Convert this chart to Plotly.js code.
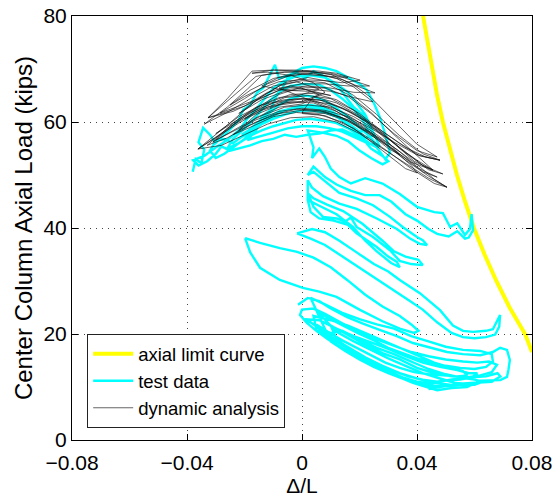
<!DOCTYPE html>
<html>
<head>
<meta charset="utf-8">
<script src="https://cdn.plot.ly/plotly-3.0.1.min.js"></script>
<style>html,body{margin:0;padding:0;background:#fff;}#chart{width:560px;height:497px;}</style>
</head>
<body>
<div id="chart"></div>
<script>
// ---- Data ----
const xTickVals = [-0.08, -0.04, 0, 0.04, 0.08];
const xTickText = ["\u22120.08", "\u22120.04", "0", "0.04", "0.08"];
const yTickVals = [0, 20, 40, 60, 80];

// axial limit curve
const limitX = [0.0421, 0.0437, 0.0452, 0.0470, 0.0490, 0.0513, 0.0539, 0.0567, 0.0598, 0.0635, 0.0676, 0.0722, 0.0776, 0.0800];
const limitY = [80.0, 75.0, 70.0, 65.0, 60.0, 55.0, 50.0, 45.0, 40.0, 35.0, 30.0, 25.0, 20.0, 16.6];

// test data: upper cluster
const testUpper = [
 [-0.038,50.6],[-0.037,53.0],[-0.035,52.2],[-0.034,54.8],[-0.036,56.2],[-0.0344,58.9],[-0.032,57.6],[-0.030,56.0],[-0.0275,57.4],[-0.025,58.6],[-0.022,60.4],[-0.0205,62.3],[-0.018,63.2],[-0.0157,65.5],[-0.0135,66.4],[-0.0122,67.9],[-0.0094,70.8],[-0.008,68.2],[-0.004,69.0],[0.0,70.2],[0.004,70.5],[0.008,70.2],[0.012,69.6],[0.016,68.4],[0.020,67.2],[0.0226,66.0],[0.025,63.6],[0.027,61.0],[0.029,57.6],[0.0306,54.2],[0.029,53.0],[0.026,55.2],[0.022,56.4],[0.018,57.6],[0.014,58.6],[0.010,58.4],[0.006,57.8],[0.002,57.6],[-0.002,57.2],[-0.006,57.6],[-0.010,56.8],[-0.014,56.4],[-0.018,55.6],[-0.022,55.0],[-0.025,54.6],[-0.028,55.4],[-0.030,54.0],[-0.033,52.6],[-0.036,51.8],[-0.0379,52.8],
 [-0.034,53.6],[-0.030,55.2],[-0.026,56.6],[-0.022,58.4],[-0.019,60.6],[-0.016,62.4],[-0.013,64.4],[-0.010,66.4],[-0.006,67.8],[-0.002,68.6],[0.003,68.8],[0.008,68.4],[0.012,67.2],[0.016,65.6],[0.019,63.6],[0.022,61.4],[0.024,59.0],[0.026,56.8],[0.027,55.4],[0.024,55.8],[0.020,57.4],[0.016,58.8],[0.012,59.8],[0.008,60.2],[0.003,60.6],[-0.002,60.4],[-0.006,59.8],[-0.010,59.2],[-0.014,58.4],[-0.018,57.4],[-0.022,56.0],[-0.026,55.0],
 [-0.024,56.8],[-0.020,58.8],[-0.016,61.0],[-0.012,63.6],[-0.008,65.6],[-0.004,66.8],[0.001,67.2],[0.006,67.0],[0.010,66.0],[0.014,64.4],[0.018,62.4],[0.021,60.4],[0.023,58.4],[0.020,58.2],[0.016,59.6],[0.012,61.0],[0.008,61.8],[0.003,62.2],[-0.002,62.0],[-0.006,61.4],[-0.010,60.6],[-0.014,59.6],[-0.018,58.6],[-0.021,57.6],
 [-0.020,57.8],[-0.016,59.6],[-0.012,61.4],[-0.008,63.2],[-0.004,64.4],[0.000,65.0],[0.004,64.8],[0.008,64.0],[0.012,62.6],[0.016,61.0],[0.020,59.0],[0.024,57.0],[0.026,55.6],[0.022,56.2],[0.018,57.2],[0.014,58.2],[0.010,58.8],[0.005,59.2],[0.000,59.2],[-0.005,58.8],[-0.010,58.0],[-0.015,57.2],[-0.019,56.6],
 [-0.016,58.4],[-0.014,61.0],[-0.011,62.2],[-0.009,64.8],[-0.007,66.2],[-0.005,68.4],[-0.002,69.4],[0.001,68.2],[0.004,69.6],[0.007,68.8],[0.010,67.6],[0.013,66.4],[0.016,64.2],[0.018,62.8],[0.021,61.4],[0.023,59.6],[0.025,57.4],[0.022,57.0],[0.019,58.6],[0.015,60.2],[0.011,61.8],[0.007,62.8],[0.003,63.2],[-0.001,63.0],[-0.005,62.4],[-0.009,61.4],[-0.013,60.0],[-0.017,58.4],[-0.021,57.2],[-0.024,56.0],[-0.027,56.8],
 [-0.030,56.4],[-0.032,54.6],[-0.030,53.2],[-0.027,54.0],[-0.024,55.2],[-0.020,56.8],[-0.016,59.0],[-0.012,60.8],[-0.008,62.0],[-0.003,62.6],[0.002,62.8],[0.007,62.4],[0.011,61.4],[0.015,60.0],[0.019,58.2],[0.022,56.4],[0.024,55.0],[0.028,53.6],[0.030,52.6],[0.028,52.0],[0.024,53.2],[0.020,54.6],[0.016,56.4],[0.012,57.4],[0.007,58.0],[0.002,58.4],[0.004,55.2]
];

// test data: middle loops
const testMiddle = [
 [0.0035,53.2],[0.006,55.0],[0.008,53.4],[0.010,51.2],[0.013,49.6],[0.017,48.4],[0.022,49.4],[0.028,48.4],[0.034,46.4],[0.040,44.0],[0.046,43.0],[0.049,42.8],[0.0515,40.2],[0.054,40.9],[0.0567,38.7],[0.0584,39.8],[0.059,42.6],[0.0595,39.6],[0.058,38.2],[0.0567,38.0],[0.054,39.4],[0.051,38.4],[0.047,38.9],[0.044,39.8],[0.040,41.4],[0.036,42.6],[0.031,45.0],[0.027,46.2],[0.022,46.2],[0.017,47.0],[0.012,48.2],[0.008,49.6],[0.004,51.6],
 [0.002,50.0],[0.004,50.6],[0.0087,48.5],[0.013,46.6],[0.019,45.6],[0.0247,44.3],[0.0306,42.1],[0.035,40.2],[0.040,38.3],[0.042,37.7],[0.0435,36.8],[0.041,37.0],[0.0376,38.0],[0.033,39.8],[0.026,41.8],[0.019,43.6],[0.013,44.6],[0.0073,46.0],[0.0035,47.6],[0.002,49.0],
 [0.002,46.6],[0.004,44.0],[0.0073,42.1],[0.012,41.8],[0.015,41.2],[0.017,42.0],[0.019,40.2],[0.0247,38.3],[0.0306,35.8],[0.034,33.8],[0.038,33.2],[0.042,33.0],[0.0405,34.0],[0.036,34.6],[0.032,35.6],[0.028,37.6],[0.021,40.8],[0.0143,43.2],[0.0087,44.4],[0.004,45.6],[0.002,46.6],
 [0.002,45.3],[0.003,43.0],[0.006,41.8],[0.011,41.4],[0.016,40.6],[0.019,39.0],[0.026,36.4],[0.030,34.6],[0.033,33.6],[0.034,32.6],[0.031,33.4],[0.026,35.6],[0.022,37.6],[0.0177,40.2],[0.012,42.6],[0.006,44.2],[0.002,45.3]
];

// test data: long lower-left loop
const testLongA = [
 [-0.0198,38.1],[-0.0146,37.2],[-0.0077,36.2],[-0.0017,35.5],[0.004,34.4],[0.010,32.6],[0.0157,30.2],[0.022,27.4],[0.028,25.2],[0.034,23.4],[0.038,21.8],[0.0405,20.6],[0.039,20.2],[0.034,21.0],[0.028,22.4],[0.020,24.6],[0.012,27.0],[0.006,28.0],[0.0003,28.7],[-0.0077,30.2],[-0.0146,32.5],[-0.018,35.4],[-0.0198,38.1]
];
// test data: loop from x=0 to the tip near 0.069
const testLongB = [
 [-0.0017,39.0],[0.0035,39.8],[0.008,39.2],[0.013,37.6],[0.019,35.4],[0.025,33.2],[0.030,31.8],[0.034,30.2],[0.041,27.7],[0.048,24.5],[0.0525,21.6],[0.0560,20.6],[0.0595,20.4],[0.0640,20.6],[0.0664,20.9],[0.0689,23.6],[0.0686,21.4],[0.0672,19.9],[0.0640,19.4],[0.0600,19.2],[0.0560,19.4],[0.0520,20.2],[0.0470,22.2],[0.0420,24.6],[0.0370,26.4],[0.0320,28.2],[0.0260,30.4],[0.0200,32.6],[0.0140,34.8],[0.0080,36.8],[0.0030,38.0],[-0.0017,39.0]
];

// test data: lower dense cluster
const testLower = [
 [-0.0014,25.5],[0.002,26.8],[0.006,26.2],[0.010,24.8],[0.0157,23.2],[0.021,22.0],[0.027,20.8],[0.033,19.6],[0.0386,18.3],[0.0445,17.4],[0.0504,16.6],[0.056,16.2],[0.062,16.0],[0.0664,16.6],[0.0689,17.4],[0.0713,17.0],[0.0723,15.1],[0.0718,13.2],[0.0713,11.9],[0.0690,11.3],[0.0664,11.3],[0.0620,11.2],[0.0574,10.0],[0.0520,9.8],[0.0470,9.4],[0.0430,10.0],[0.0386,10.8],[0.0340,11.8],[0.0306,12.6],[0.0260,13.8],[0.0210,15.1],[0.0170,16.4],[0.0132,17.5],[0.0090,19.0],[0.0050,20.6],[0.0017,22.1],[-0.0007,23.6],
 [0.000,24.6],[0.004,24.8],[0.008,23.8],[0.014,22.0],[0.020,20.4],[0.026,19.0],[0.032,17.8],[0.038,16.6],[0.044,15.8],[0.050,15.2],[0.056,14.8],[0.061,14.6],[0.065,14.8],[0.0678,14.2],[0.066,12.8],[0.062,12.2],[0.057,11.8],[0.052,11.4],[0.047,11.0],[0.042,11.4],[0.037,12.0],[0.032,13.0],[0.027,14.2],[0.022,15.6],[0.017,17.2],[0.012,18.8],[0.007,20.6],[0.003,22.2],
 [0.001,22.8],[0.006,22.6],[0.012,21.0],[0.018,19.6],[0.024,18.4],[0.030,17.2],[0.036,15.8],[0.042,14.6],[0.048,13.8],[0.054,13.2],[0.058,12.6],[0.061,12.6],[0.059,11.8],[0.055,11.4],[0.050,11.2],[0.045,10.6],[0.040,11.0],[0.035,11.8],[0.030,13.0],[0.025,14.4],[0.020,15.8],[0.015,17.6],[0.010,19.2],[0.005,20.8],
 [0.004,23.4],[0.010,22.6],[0.016,21.6],[0.022,20.2],[0.028,18.8],[0.034,17.4],[0.040,16.0],[0.046,14.6],[0.052,13.6],[0.056,13.0],[0.0575,12.2],[0.054,12.0],[0.049,12.2],[0.044,12.4],[0.039,12.8],[0.034,13.6],[0.029,14.6],[0.024,16.0],[0.019,17.4],[0.014,18.8],[0.009,20.4],[0.005,21.8],
 [0.008,20.0],[0.014,20.6],[0.020,19.0],[0.026,17.4],[0.032,16.2],[0.038,14.8],[0.044,13.4],[0.050,12.4],[0.055,11.8],[0.060,11.4],[0.063,11.0],[0.060,10.4],[0.055,10.4],[0.050,10.2],[0.045,10.2],[0.040,10.8],[0.035,11.6],[0.030,12.6],[0.025,13.8],[0.020,15.2],[0.015,16.8],[0.010,18.6],
 [0.003,26.8],[0.008,25.6],[0.014,24.0],[0.020,22.8],[0.026,21.8],[0.032,21.0],[0.038,19.6],[0.044,18.6],[0.050,17.6],[0.056,17.0],[0.062,16.8],[0.066,16.2],[0.0664,14.8],[0.064,13.8],[0.060,13.4],[0.055,13.6],[0.050,14.0],[0.045,14.6],[0.040,15.4],[0.035,16.4],[0.030,17.4],[0.025,18.8],[0.020,20.0],[0.015,21.4],[0.010,22.8],[0.005,24.4],
 [0.012,20.4],[0.018,18.6],[0.024,17.0],[0.030,15.4],[0.036,14.0],[0.042,12.6],[0.048,11.6],[0.053,10.8],[0.056,10.6],[0.052,10.4],[0.046,10.8],[0.040,11.6],[0.034,12.6],[0.028,14.0],[0.022,15.6],[0.016,17.4],[0.012,19.0],
 [0.010,21.6],[0.016,19.8],[0.022,18.0],[0.028,16.4],[0.034,15.2],[0.040,13.6],[0.046,12.6],[0.052,12.0],[0.058,11.8],[0.064,12.0],[0.068,12.6],[0.069,12.0],[0.066,11.0],[0.060,10.8],[0.054,10.6],[0.048,10.0],[0.044,9.6]
];

// dynamic analysis path
const dynPath = [
 [0.000,62.4],[0.008,62.0],[0.016,60.4],[0.024,58.0],[0.032,55.2],[0.040,52.0],[0.046,49.2],[0.0504,47.7],[0.044,49.4],[0.036,52.2],[0.028,55.0],[0.020,57.8],[0.012,60.0],[0.004,61.0],[-0.004,60.8],[-0.012,59.6],[-0.020,57.6],[-0.028,55.6],[-0.0362,54.9],[-0.030,57.0],[-0.022,59.8],[-0.014,62.2],[-0.006,63.6],[0.002,64.0],
 [0.010,63.4],[0.018,61.6],[0.026,59.0],[0.034,56.0],[0.041,53.6],[0.048,52.8],[0.040,53.8],[0.032,56.2],[0.024,58.8],[0.016,61.0],[0.008,62.2],[0.000,62.6],[-0.008,62.0],[-0.016,60.4],[-0.024,58.2],[-0.030,56.6],[-0.024,59.4],[-0.016,62.0],[-0.008,63.6],[0.000,64.4],
 [0.008,64.0],[0.016,62.2],[0.024,59.4],[0.032,56.0],[0.039,52.6],[0.0456,50.9],[0.038,52.4],[0.030,55.4],[0.022,58.2],[0.014,60.8],[0.006,62.2],[-0.002,62.4],[-0.010,61.4],[-0.018,59.4],[-0.026,57.0],[-0.033,55.6],[-0.026,58.8],[-0.018,61.8],[-0.010,63.6],[-0.002,64.4],
 [0.006,64.2],[0.014,62.6],[0.022,60.2],[0.028,57.4],[0.034,53.8],[0.030,55.0],[0.024,57.6],[0.016,60.4],[0.008,61.8],[0.000,62.2],[-0.008,61.6],[-0.016,60.0],[-0.022,58.4],[-0.016,61.4],[-0.008,63.2],[0.000,63.8],
 [0.006,65.2],[0.000,66.4],[-0.008,66.0],[-0.016,64.0],[-0.024,62.0],[-0.0327,60.8],[-0.026,64.4],[-0.0174,69.6],[-0.010,69.8],[-0.002,69.8],[0.006,69.6],[0.012,69.2],[0.016,68.6],[0.0202,67.9],[0.014,67.4],[0.008,67.8],[0.000,68.0],[-0.008,67.6],[-0.014,66.4],[-0.020,64.8],[-0.025,63.2],[-0.018,66.0],[-0.010,68.2],[-0.002,69.2],[0.006,69.0],[0.014,68.0],[0.020,66.6],[0.0254,65.5],[0.018,65.6],[0.010,66.4],[0.002,66.8],[-0.006,66.4],[-0.014,64.6],[-0.0285,61.7],[-0.020,64.4],[-0.012,67.2],[-0.004,68.8],[0.004,69.2],[0.012,68.2],[0.018,66.6],[0.0247,63.8],[0.018,64.6],[0.010,65.8],[0.002,66.2],[-0.006,65.8],
 [-0.014,64.2],[-0.022,61.6],[-0.014,64.8],[-0.006,67.4],[0.002,68.4],[0.010,67.6],[0.018,65.0],[0.026,61.4],[0.034,57.4],[0.042,54.0],[0.048,52.8],[0.043,53.4],[0.036,55.2],[0.028,58.2],[0.020,61.6],[0.012,64.2],[0.004,65.4],[-0.004,65.2],[-0.012,63.6],[-0.020,61.0],[-0.026,58.6],[-0.0362,54.9],[-0.026,59.4],[-0.0157,64.2],[-0.008,66.8],[0.000,67.8],[0.008,67.4],[0.016,65.2],[0.024,61.8],[0.032,57.6],[0.038,54.6],[0.0456,50.9],[0.040,52.8],[0.034,55.0],[0.026,58.8],[0.018,62.2],[0.010,64.4],[0.002,65.0],[-0.006,64.6],[-0.014,62.6],[-0.020,60.6],
 [-0.012,62.8],[-0.004,63.8],[0.004,63.6],[0.012,62.0],[0.020,59.4],[0.028,56.2],[0.036,52.8],[0.044,49.8],[0.0504,47.7],[0.046,48.4],[0.038,51.2],[0.030,54.4],[0.022,57.4],[0.014,60.0],[0.006,61.4],[-0.002,61.8],[-0.010,61.0],[-0.018,59.0],[-0.024,57.6],[-0.016,60.8],[-0.008,62.8],[0.000,63.4],
 [0.008,65.6],[0.004,67.4],[-0.004,68.8],[-0.012,69.4],[-0.0174,69.2],[-0.010,69.8],[0.000,69.6],[0.010,69.2],[0.016,68.4],[0.010,68.6],[0.000,69.0],[-0.008,68.4],[-0.014,66.8],[-0.006,66.0],[0.002,65.8],[0.010,65.0],
 [-0.004,66.8],[-0.012,65.6],[-0.020,63.0],[-0.0327,60.8],[-0.024,64.8],[-0.016,68.6],[-0.008,69.4],[0.002,69.6],[0.010,69.0],[0.018,67.0],[0.024,64.6],[0.032,60.2],[0.040,55.8],[0.047,53.4],[0.040,54.6],[0.032,57.8],[0.024,61.6],[0.016,64.8],[0.008,66.4],[0.000,66.6],
 [-0.008,65.2],[-0.016,62.6],[-0.024,59.8],[-0.030,57.8],[-0.022,61.0],[-0.014,63.2],[-0.006,64.2],[0.002,64.4],[0.010,63.0],[0.018,60.6],[0.026,57.6],[0.034,54.4],[0.042,50.6],[0.047,49.6],[0.040,51.4],[0.032,54.8],[0.024,57.8],[0.016,60.2],[0.008,61.6],[0.000,61.8],
 [0.004,64.8],[0.012,63.6],[0.020,61.2],[0.028,58.0],[0.036,54.2],[0.044,51.0],[0.049,50.2],[0.042,51.8],[0.034,55.2],[0.026,58.4],[0.018,61.0],[0.010,62.8],[0.002,63.2],[-0.006,62.8],[-0.014,61.2],[-0.022,59.0],[-0.031,56.2],[-0.024,59.8],[-0.016,62.8],[-0.008,64.6],[0.000,65.2],
 [0.006,66.2],[-0.002,67.6],[-0.010,66.8],[-0.018,64.4],[-0.026,61.8],[-0.034,59.6],[-0.026,62.8],[-0.019,66.2],[-0.014,68.8],[-0.006,69.4],[0.004,69.4],[0.012,68.8],[0.019,67.6],[0.0235,66.8],[0.016,66.8],[0.008,67.2],[0.000,67.2],[-0.008,66.4],
 [0.010,62.6],[0.020,59.6],[0.030,55.6],[0.038,51.8],[0.040,50.4],[0.036,51.2],[0.028,54.6],[0.018,58.8],[0.008,61.2],[0.000,61.6]
];

// ---- Build traces (null breaks between separate loop groups) ----
const testGroups = [testUpper.concat(testMiddle), testLongA, testLongB, testLower];
const testX = [], testY = [];
testGroups.forEach((g, i) => {
  if (i > 0) { testX.push(null); testY.push(null); }
  g.forEach(p => { testX.push(p[0]); testY.push(p[1]); });
});
const dynX = dynPath.map(p => p[0]);
const dynY = dynPath.map(p => p[1]);

const FONT = "Liberation Sans, Arial, Helvetica, sans-serif";

const traces = [
  {x: limitX, y: limitY, type: "scatter", mode: "lines", name: "axial limit curve",
   line: {color: "#ffff00", width: 4}},
  {x: testX, y: testY, type: "scatter", mode: "lines", name: "test data", connectgaps: false,
   line: {color: "#00ffff", width: 2.4}},
  {x: dynX, y: dynY, type: "scatter", mode: "lines", name: "dynamic analysis",
   line: {color: "#111111", width: 0.65}}
];

const layout = {
  width: 560, height: 497,
  margin: {l: 72, r: 28, t: 16, b: 57, pad: 0},
  paper_bgcolor: "#ffffff", plot_bgcolor: "#ffffff",
  font: {family: FONT, size: 21, color: "#000"},
  showlegend: true,
  legend: {x: 0.033, y: 0.028, xanchor: "left", yanchor: "bottom",
    bgcolor: "#ffffff", bordercolor: "#222", borderwidth: 1, itemwidth: 40,
    font: {family: FONT, size: 18.5, color: "#000"}, tracegroupgap: 0},
  xaxis: {range: [-0.08, 0.08], tickvals: xTickVals, ticktext: xTickText,
    ticks: "inside", ticklen: 6, tickcolor: "#000", showline: true, mirror: "ticks",
    linecolor: "#000", linewidth: 1, zeroline: false, ticklabelstandoff: 4,
    showgrid: true, gridcolor: "#444", gridwidth: 1, griddash: "1px,5px",
    tickfont: {family: FONT, size: 21},
    title: {text: "\u0394/L", font: {family: FONT, size: 21}, standoff: 7}},
  yaxis: {range: [0, 80], tickvals: yTickVals,
    ticks: "inside", ticklen: 6, tickcolor: "#000", showline: true, mirror: "ticks",
    linecolor: "#000", linewidth: 1, zeroline: false,
    showgrid: true, gridcolor: "#444", gridwidth: 1, griddash: "1px,5px",
    tickfont: {family: FONT, size: 21},
    title: {text: "Center Column Axial Load (kips)", font: {family: FONT, size: 24}, standoff: 4}}
};

Plotly.newPlot("chart", traces, layout, {displayModeBar: false, staticPlot: true});
</script>
</body>
</html>
